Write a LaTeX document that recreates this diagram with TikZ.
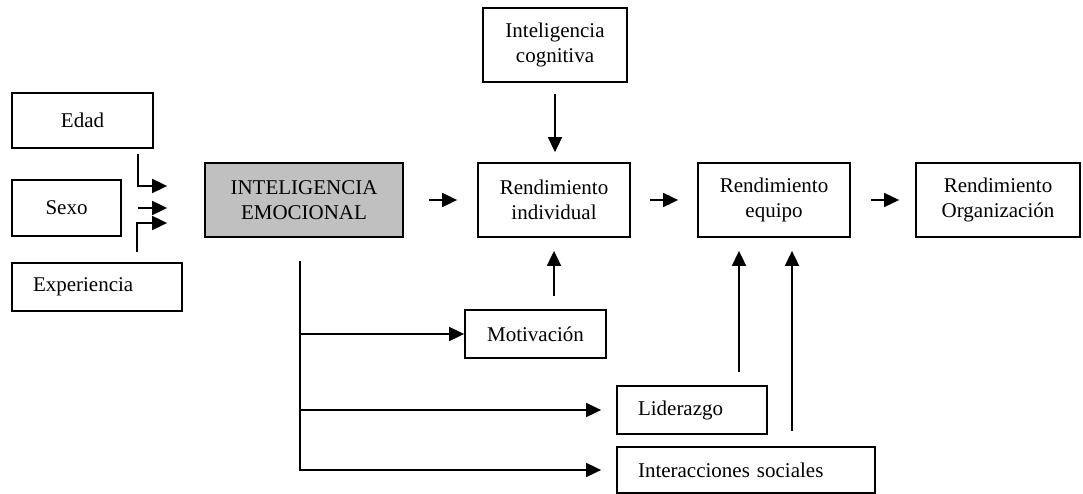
\documentclass[tikz,border=0pt]{standalone}
\usepackage{fontspec}
\setmainfont{Liberation Serif}
\usepackage{tikz}
\usetikzlibrary{arrows.meta, positioning, calc}
\definecolor{emogray}{RGB}{192, 192, 192}

\begin{document}
\begin{tikzpicture}[x=1pt, y=-1pt, line width=1.8pt,
  >={Triangle[length=15pt,width=14pt]},
  box/.style={draw, inner sep=0pt, align=center, font=\fontsize{21}{25}\selectfont},
  lbox/.style={box, align=left, inner xsep=21pt}]
\useasboundingbox (0,0) rectangle (1083,494);

% Factores de entrada
\node[box, minimum width=141pt, minimum height=55pt] (edad) at (82.5,120.5) {Edad};
\node[box, minimum width=109pt, minimum height=56pt] (sexo) at (66.5,208) {Sexo};
\node[lbox, text width=128pt, minimum height=48pt] (exper) at (97,287) {Experiencia};
\node[box, fill=emogray, minimum width=198pt, minimum height=74pt] (emoc) at (304,200) {INTELIGENCIA\\EMOCIONAL};

\draw[->] ([xshift=55.5pt,yshift=-5pt]edad.south) |- ([xshift=-37pt,yshift=14pt]emoc.west);
\draw[->, shorten >=37pt] ([xshift=16pt]sexo.east) -- (sexo.east -| emoc.west);
\draw[->] ([xshift=40pt,yshift=10pt]exper.north) |- ([xshift=-37pt,yshift=-23pt]emoc.west);

% Cadena de rendimiento
\node[box, minimum width=144pt, minimum height=74pt] (cogn) at (555,45) {Inteligencia\\cognitiva};
\node[box, minimum width=152pt, minimum height=74pt] (rind) at (554,200) {Rendimiento\\individual};
\node[box, minimum width=152pt, minimum height=74pt] (requ) at (774,200) {Rendimiento\\equipo};
\node[box, minimum width=164pt, minimum height=74pt] (rorg) at (998,200) {Rendimiento\\Organización};

\draw[->, shorten <=25pt, shorten >=20pt] (emoc) -- (rind);
\draw[->, shorten <=19pt, shorten >=19pt] (rind) -- (requ);
\draw[->, shorten <=20pt, shorten >=16pt] (requ) -- (rorg);
\draw[->, shorten <=11pt, shorten >=10pt] (cogn.south) -- (cogn.south |- rind.north);

% Mediadores
\node[box, minimum width=141pt, minimum height=48pt] (motiv) at (535.5,334) {Motivación};
\node[lbox, text width=108pt, minimum height=48pt] (lider) at (692,410) {Liderazgo};
\node[lbox, text width=216pt, minimum height=46pt] (inter) at (746,470) {Interacciones sociales};

\coordinate (trunk) at ([xshift=-4pt,yshift=-23pt]emoc.south);
\draw[->, shorten >=15pt] (trunk) |- (inter.west);
\draw[->] (trunk |- motiv.west) -- (motiv.west);
\draw[->, shorten >=15pt] (trunk |- lider.west) -- (lider.west);

\coordinate (ql) at ([xshift=-35pt]requ.south);
\coordinate (qi) at ([xshift=18pt]requ.south);
\draw[->, shorten <=13pt, shorten >=13pt] (rind.south |- motiv.north) -- (rind.south);
\draw[->, shorten <=13pt, shorten >=13pt] (ql |- lider.north) -- (ql);
\draw[->, shorten <=15pt, shorten >=13pt] (qi |- inter.north) -- (qi);
\end{tikzpicture}
\end{document}
